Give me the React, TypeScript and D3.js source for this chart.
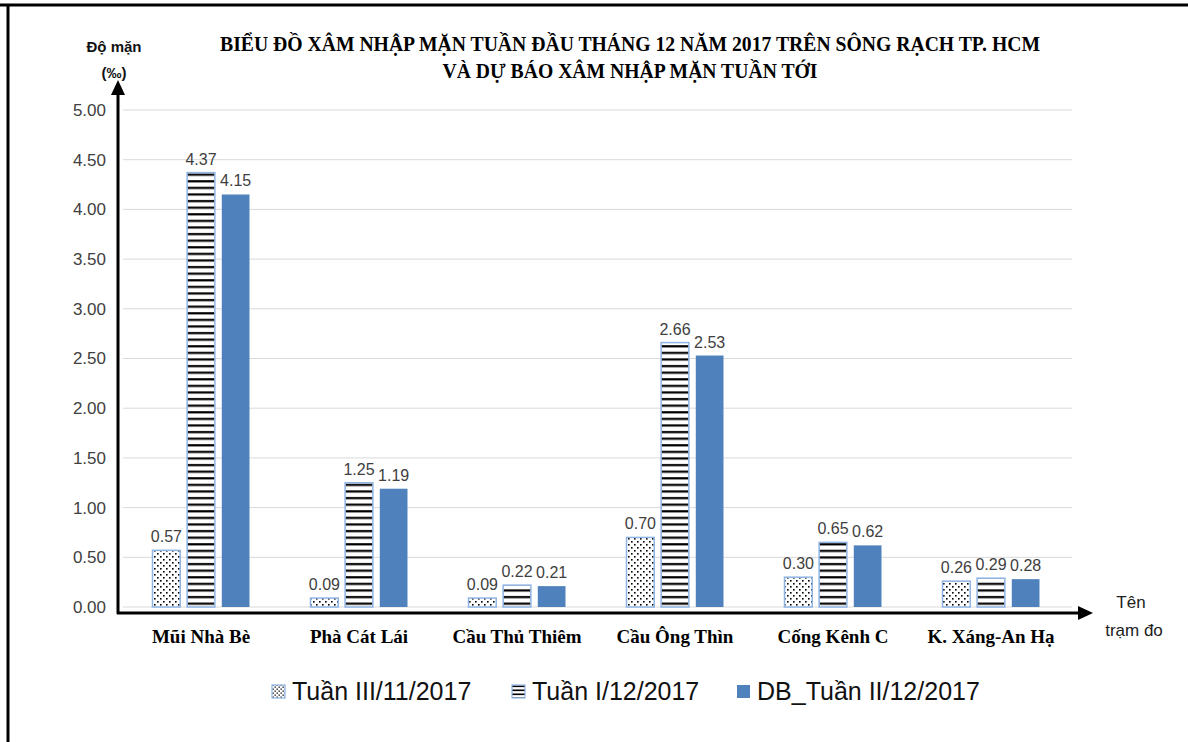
import * as d3 from 'd3'

const categories = ['Mũi Nhà Bè', 'Phà Cát Lái', 'Cầu Thủ Thiêm', 'Cầu Ông Thìn', 'Cống Kênh C', 'K. Xáng-An Hạ']
const seriesNames = ['Tuần III/11/2017', 'Tuần I/12/2017', 'DB_Tuần II/12/2017']
const tuan3_11 = [0.57, 0.09, 0.09, 0.70, 0.30, 0.26]
const tuan1_12 = [4.37, 1.25, 0.22, 2.66, 0.65, 0.29]
const db_tuan2_12 = [4.15, 1.19, 0.21, 2.53, 0.62, 0.28]
const yTicks = [0, 0.5, 1, 1.5, 2, 2.5, 3, 3.5, 4, 4.5, 5]

const W = 1188
const H = 742
const sans = '"Liberation Sans", Arial, sans-serif'
const serif = '"Liberation Serif", "Times New Roman", serif'

const App = () => {
  const values = [tuan3_11, tuan1_12, db_tuan2_12]
  const fills = ['url(#dots)', 'url(#stripes)', '#4f81bd']
  const strokes = ['#8eb4e3', '#8eb4e3', 'none']

  const xScale = d3.scaleBand().domain(categories).range([122, 1070])
  const xSub = d3.scaleBand()
    .domain(seriesNames)
    .range([-48.5, 48.5])
    .paddingInner(0.2)
  const yScale = d3.scaleLinear().domain([0, 5]).range([607, 110])

  const center = (c) => xScale(c) + xScale.bandwidth() / 2

  const legendItems = [
    { x: 272, text: seriesNames[0] },
    { x: 512, text: seriesNames[1] },
    { x: 737, text: seriesNames[2] },
  ]

  return (
    <div style={{ position: 'absolute', left: 0, top: 0 }}>
      <svg width={W} height={H} style={{ display: 'block', background: '#fff' }}>
        <defs>
          <pattern id="dots" width={6} height={6} patternUnits="userSpaceOnUse">
            <rect width={6} height={6} fill="#fff" />
            <rect x={1} y={1} width={1.6} height={1.6} fill="#000" />
            <rect x={4} y={4} width={1.6} height={1.6} fill="#000" />
          </pattern>
          <pattern id="stripes" width={8} height={6.6} patternUnits="userSpaceOnUse">
            <rect width={8} height={6.6} fill="#fff" />
            <rect y={2} width={8} height={2.2} fill="#000" />
          </pattern>
          <pattern id="dotsLegend" width={4} height={4} patternUnits="userSpaceOnUse">
            <rect width={4} height={4} fill="#fff" />
            <rect x={0.5} y={0.5} width={1.3} height={1.3} fill="#000" />
            <rect x={2.5} y={2.5} width={1.3} height={1.3} fill="#000" />
          </pattern>
          <pattern id="stripesLegend" width={4} height={4} patternUnits="userSpaceOnUse">
            <rect width={4} height={4} fill="#fff" />
            <rect y={1.5} width={4} height={1.6} fill="#000" />
          </pattern>
        </defs>

        {/* frame (top and left only) */}
        <line x1={0} x2={W} y1={5} y2={5} stroke="#000" strokeWidth={3} />
        <line x1={8} x2={8} y1={4} y2={H} stroke="#000" strokeWidth={3} />

        {/* title */}
        <g fontFamily={serif} fontWeight="bold" fontSize={20} textAnchor="middle" fill="#000">
          <text x={630} y={51} textLength={820} lengthAdjust="spacingAndGlyphs">
            BIỂU ĐỒ XÂM NHẬP MẶN TUẦN ĐẦU THÁNG 12 NĂM 2017 TRÊN SÔNG RẠCH TP. HCM
          </text>
          <text x={630} y={78} textLength={375} lengthAdjust="spacingAndGlyphs">
            VÀ DỰ BÁO XÂM NHẬP MẶN TUẦN TỚI
          </text>
        </g>

        {/* y axis title */}
        <g fontFamily={sans} fontWeight="bold" fontSize={15} textAnchor="middle" fill="#111">
          <text x={114} y={52}>Độ mặn</text>
          <text x={114} y={78}>(‰)</text>
        </g>

        {/* gridlines + y tick labels */}
        {yTicks.map((t) => (
          <g key={t}>
            <line x1={123} x2={1072} y1={yScale(t)} y2={yScale(t)} stroke="#d9d9d9" strokeWidth={1} />
            <text x={106} y={yScale(t)} dy="0.35em" textAnchor="end" fontFamily={sans} fontSize={17} fill="#404040">
              {d3.format('.2f')(t)}
            </text>
          </g>
        ))}

        {/* bars */}
        {values.map((vals, si) => (
          <g key={si}>
            {vals.map((v, ci) => {
              const x = center(categories[ci]) + xSub(seriesNames[si])
              return (
                <g key={ci}>
                  <rect
                    x={x}
                    y={yScale(v)}
                    width={xSub.bandwidth()}
                    height={yScale(0) - yScale(v)}
                    fill={fills[si]}
                    stroke={strokes[si]}
                    strokeWidth={1.5}
                  />
                  <text
                    x={x + xSub.bandwidth() / 2}
                    y={yScale(v) - 8}
                    textAnchor="middle"
                    fontFamily={sans}
                    fontSize={16}
                    fill="#404040"
                  >
                    {d3.format('.2f')(v)}
                  </text>
                </g>
              )
            })}
          </g>
        ))}

        {/* axes with arrows */}
        <line x1={118} x2={118} y1={614} y2={92} stroke="#000" strokeWidth={3} />
        <path d="M118,80 L111,95 L125,95 Z" fill="#000" />
        <line x1={117} x2={1080} y1={613} y2={613} stroke="#000" strokeWidth={3} />
        <path d="M1093,613 L1078,606 L1078,620 Z" fill="#000" />

        {/* category labels */}
        {categories.map((c) => (
          <text key={c} x={center(c)} y={643} textAnchor="middle" fontFamily={serif} fontWeight="bold" fontSize={19} fill="#000">
            {c}
          </text>
        ))}

        {/* x axis title */}
        <g fontFamily={sans} fontSize={17} textAnchor="middle" fill="#222">
          <text x={1131} y={608}>Tên</text>
          <text x={1134} y={636}>trạm đo</text>
        </g>

        {/* legend */}
        {legendItems.map((it, i) => (
          <g key={i}>
            <rect
              x={it.x}
              y={685}
              width={13}
              height={13}
              fill={i === 0 ? 'url(#dotsLegend)' : i === 1 ? 'url(#stripesLegend)' : '#4f81bd'}
              stroke={i < 2 ? '#8eb4e3' : 'none'}
              strokeWidth={1.2}
            />
            <text x={it.x + 20} y={700} fontFamily={sans} fontSize={25} fill="#111">
              {it.text}
            </text>
          </g>
        ))}
      </svg>
    </div>
  )
}

export default App
